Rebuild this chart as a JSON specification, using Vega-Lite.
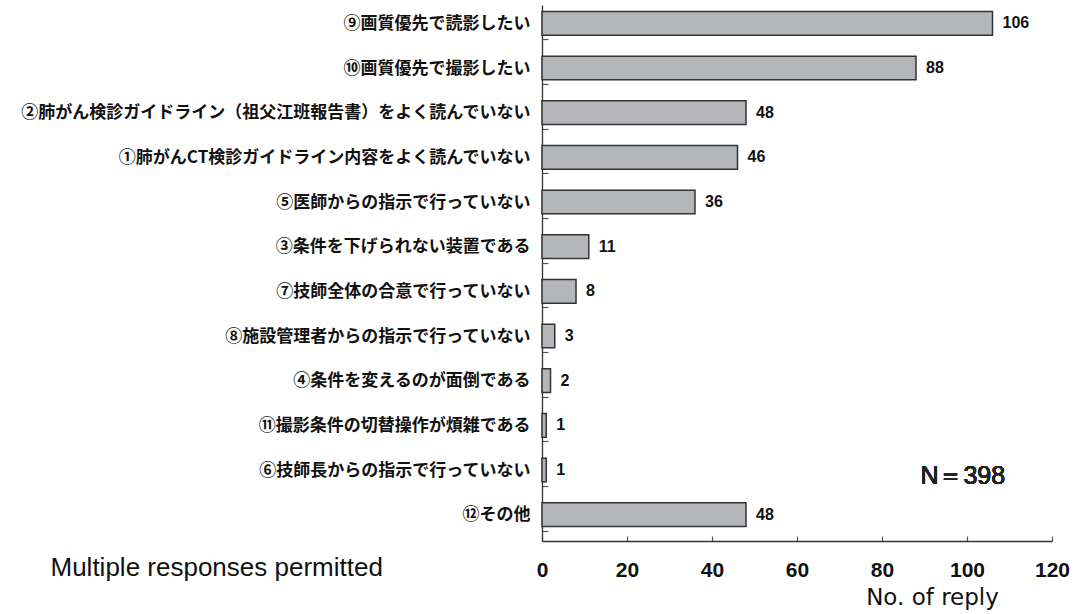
{
  "$schema": "https://vega.github.io/schema/vega-lite/v6.json",
  "width": 510,
  "height": 536,
  "autosize": {"type": "none"},
  "padding": {"left": 542, "top": 5, "right": 22, "bottom": 73},
  "background": "white",
  "data": {
    "values": [
      {"item": "⑨画質優先で読影したい", "count": 106},
      {"item": "⑩画質優先で撮影したい", "count": 88},
      {"item": "②肺がん検診ガイドライン（祖父江班報告書）をよく読んでいない", "count": 48},
      {"item": "①肺がんCT検診ガイドライン内容をよく読んでいない", "count": 46},
      {"item": "⑤医師からの指示で行っていない", "count": 36},
      {"item": "③条件を下げられない装置である", "count": 11},
      {"item": "⑦技師全体の合意で行っていない", "count": 8},
      {"item": "⑧施設管理者からの指示で行っていない", "count": 3},
      {"item": "④条件を変えるのが面倒である", "count": 2},
      {"item": "⑪撮影条件の切替操作が煩雑である", "count": 1},
      {"item": "⑥技師長からの指示で行っていない", "count": 1},
      {"item": "⑫その他", "count": 48}
    ]
  },
  "config": {
    "view": {"stroke": null},
    "axis": {"grid": false, "domainColor": "#333333", "domainWidth": 1.3, "tickColor": "#555555", "tickWidth": 1.2}
  },
  "encoding": {
    "y": {
      "field": "item",
      "type": "nominal",
      "sort": null,
      "scale": {"paddingInner": 0.47, "paddingOuter": 0.235},
      "axis": {
        "title": "Multiple responses permitted",
        "titleAngle": 0,
        "titleAlign": "left",
        "titleBaseline": "alphabetic",
        "titleX": -492,
        "titleY": 570,
        "titleFont": "Liberation Sans",
        "titleFontSize": 26,
        "titleFontWeight": "normal",
        "titleColor": "#111111",
        "tickBand": "extent",
        "tickSize": -6,
        "labelPadding": 18,
        "labelOffset": -4,
        "labelFont": "Noto Sans CJK JP",
        "labelFontWeight": "bold",
        "labelFontSize": 17,
        "labelColor": "#111111",
        "labelLimit": 0
      }
    },
    "x": {
      "field": "count",
      "type": "quantitative",
      "scale": {"domain": [0, 120]},
      "axis": {
        "values": [0, 20, 40, 60, 80, 100, 120],
        "title": "No. of reply",
        "titleFont": "DejaVu Sans",
        "titleFontSize": 23,
        "titleFontWeight": "normal",
        "titleColor": "#111111",
        "titleAlign": "center",
        "titleBaseline": "alphabetic",
        "titleX": 390,
        "titleY": 63,
        "tickSize": -5,
        "labelPadding": 23,
        "labelFont": "Liberation Sans",
        "labelFontWeight": "bold",
        "labelFontSize": 21,
        "labelColor": "#111111",
        "labelFlush": false
      }
    }
  },
  "layer": [
    {
      "mark": {"type": "bar", "fill": "#b5b6b9", "stroke": "#333333", "strokeWidth": 1.5, "yOffset": -4}
    },
    {
      "mark": {"type": "text", "align": "left", "baseline": "middle", "dx": 10, "yOffset": -4, "font": "Liberation Sans", "fontWeight": "bold", "fontSize": 16, "color": "#111111"},
      "encoding": {"text": {"field": "count", "type": "quantitative"}}
    },
    {
      "mark": {"type": "text", "align": "center", "baseline": "middle", "yOffset": 2, "font": "Liberation Sans", "fontWeight": "normal", "fontSize": 25, "color": "#222222"},
      "encoding": {
        "x": {"datum": 99},
        "y": {"datum": "⑥技師長からの指示で行っていない"},
        "text": {"value": "N＝398"}
      }
    }
  ]
}
